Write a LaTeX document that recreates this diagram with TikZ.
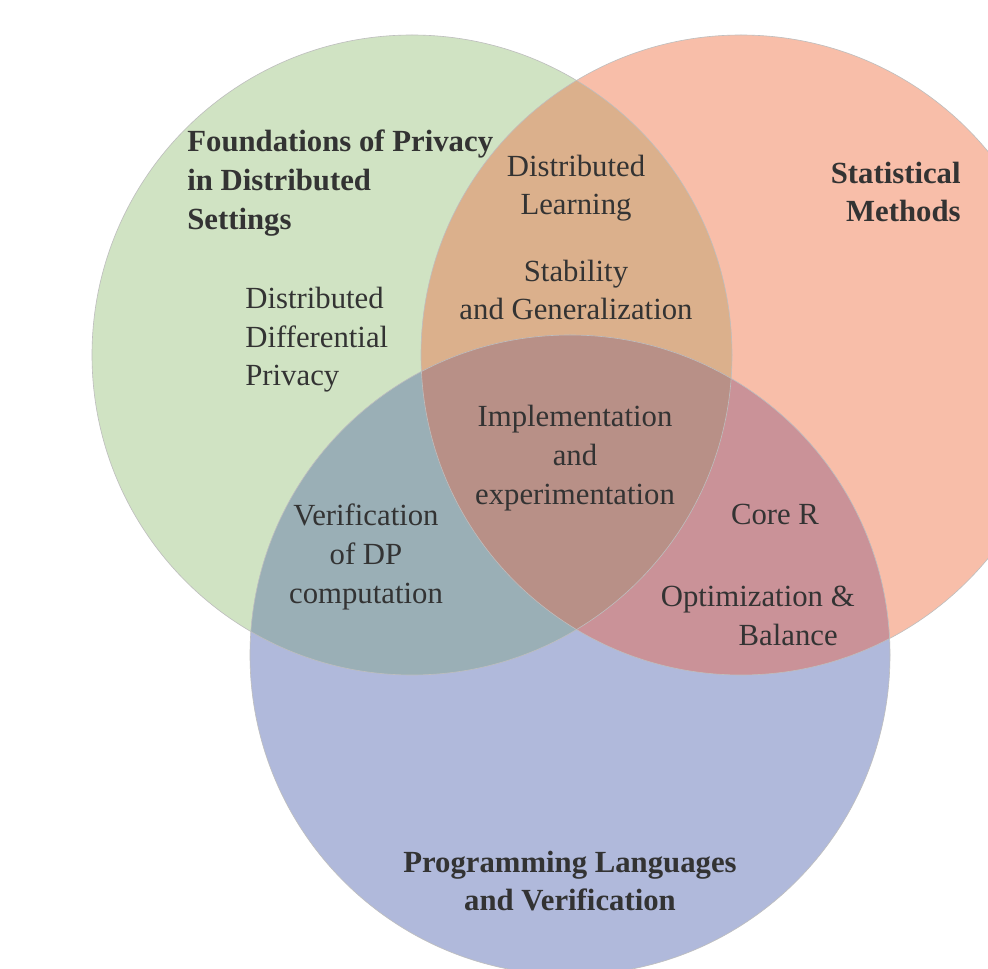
\documentclass[tikz,border=0pt]{standalone}
\usepackage{fontspec}
\setmainfont{Liberation Serif}
\usetikzlibrary{positioning}
\definecolor{venngreen}{RGB}{208, 227, 195}
\definecolor{vennorange}{RGB}{248, 190, 169}
\definecolor{vennblue}{RGB}{176, 185, 219}
\definecolor{venngo}{RGB}{219, 176, 140}
\definecolor{venngb}{RGB}{154, 175, 182}
\definecolor{vennob}{RGB}{202, 146, 152}
\definecolor{vennall}{RGB}{184, 144, 135}
\definecolor{vennline}{RGB}{190, 190, 190}
\definecolor{venntext}{RGB}{51, 51, 51}

\begin{document}
\begin{tikzpicture}[
		x=0.02cm, y=-0.02cm,
		% Text styles
		area/.style={text=venntext, font=\fontsize{17.5}{22}\selectfont, align=center, inner sep=0pt},
		heading/.style={area, font=\fontsize{17.5}{22}\selectfont\bfseries},
		rim/.style={draw=vennline, line width=0.35pt}
	]

	% Page
	\clip (0,0) rectangle (988,969);
	\fill[white] (0,0) rectangle (988,969);

	% Circle centres
	\coordinate (privacy) at (412,355);
	\coordinate (stats) at (741,355);
	\coordinate (proglang) at (570,655);

	% Single areas
	\fill[venngreen] (privacy) circle (320);
	\fill[vennorange] (stats) circle (320);
	\fill[vennblue] (proglang) circle (320);

	% Pairwise overlaps
	\begin{scope}
		\clip (privacy) circle (320);
		\fill[venngo] (stats) circle (320);
		\fill[venngb] (proglang) circle (320);
	\end{scope}
	\begin{scope}
		\clip (stats) circle (320);
		\fill[vennob] (proglang) circle (320);
	\end{scope}

	% Middle
	\begin{scope}
		\clip (privacy) circle (320);
		\clip (stats) circle (320);
		\fill[vennall] (proglang) circle (320);
	\end{scope}

	% Outlines
	\draw[rim] (privacy) circle (320);
	\draw[rim] (stats) circle (320);
	\draw[rim] (proglang) circle (320);

	% Headings
	\node[heading, align=left, anchor=west] (found) at (187,183) {Foundations of Privacy\\in Distributed\\Settings};
	\node[heading, align=right, anchor=east] (statmeth) at (961,192) {Statistical\\Methods};
	\node[heading] (plv) at (570,881) {Programming Languages\\and Verification};

	% Topics
	\node[area, align=left, anchor=west] (ddp) at (245,340) {Distributed\\Differential\\Privacy};
	\node[area] (distlearn) at (576,188) {Distributed\\Learning};
	\node[area] (stab) at (576,290) {Stability\\and Generalization};
	\node[area] (impl) at (575,458) {Implementation\\and\\experimentation};
	\node[area] (verif) at (366,557) {Verification\\of DP\\computation};
	\node[area] (core) at (775,514) {Core R};
	\node[area, align=right, anchor=east] (optim) at (855,616) {Optimization \&\\Balance\hspace*{0.34cm}};

\end{tikzpicture}
\end{document}
